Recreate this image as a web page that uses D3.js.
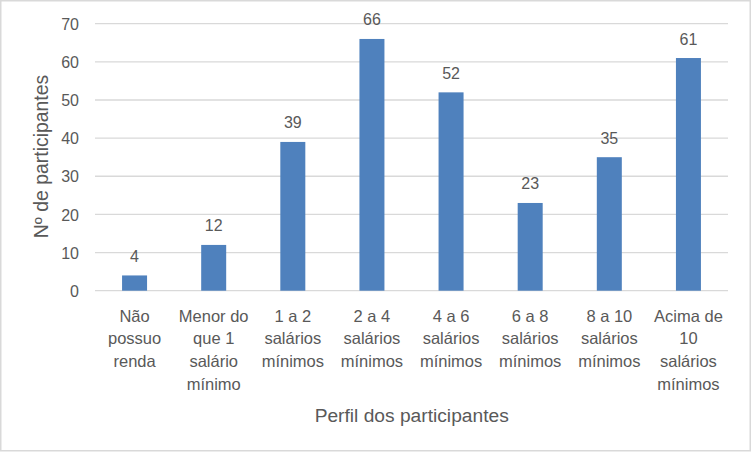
<!DOCTYPE html>
<html><head><meta charset="utf-8">
<script src="https://cdn.jsdelivr.net/npm/d3@7"></script>
<style>body{margin:0;background:#fff}svg{display:block}text{font-family:"Liberation Sans",Arial,sans-serif;fill:#595959}</style>
</head><body>
<svg id="c" width="752" height="453"></svg>
<script>
const categories = [
  ["Não","possuo","renda"],
  ["Menor do","que 1","salário","mínimo"],
  ["1 a 2","salários","mínimos"],
  ["2 a 4","salários","mínimos"],
  ["4 a 6","salários","mínimos"],
  ["6 a 8","salários","mínimos"],
  ["8 a 10","salários","mínimos"],
  ["Acima de","10","salários","mínimos"]
];
const values = [4, 12, 39, 66, 52, 23, 35, 61];
const yTicks = [0, 10, 20, 30, 40, 50, 60, 70];
const yTitle = "Nº de participantes";
const xTitle = "Perfil dos participantes";

(function(){
const svg = d3.select("#c");
svg.append("rect").attr("x",0.75).attr("y",0.75).attr("width",749.5).attr("height",450)
  .attr("fill","#fff").attr("stroke","#d9d9d9").attr("stroke-width",1.5);

const pL = 95, pR = 728, pT = 23.7, pB = 290.7;
const x = d3.scaleBand().domain(d3.range(categories.length)).range([pL, pR]).paddingInner(0.684).paddingOuter(0.342);
const y = d3.scaleLinear().domain([0, 70]).range([pB, pT]);

svg.append("g").selectAll("line").data(yTicks).join("line")
  .attr("x1", pL).attr("x2", pR)
  .attr("y1", d => y(d)).attr("y2", d => y(d))
  .attr("stroke", "#d9d9d9").attr("stroke-width", 1.3);

const yAxis = d3.axisLeft(y).tickValues(yTicks).tickSize(0).tickPadding(0);
const gy = svg.append("g").attr("transform", `translate(79,0)`).call(yAxis);
gy.select(".domain").remove();
gy.selectAll("text").attr("font-size", 16).attr("fill", "#595959")
  .attr("font-family", '"Liberation Sans",Arial,sans-serif').attr("dy", "0.35em");

svg.append("g").selectAll("rect").data(values).join("rect")
  .attr("x", (d, i) => x(i)).attr("width", x.bandwidth())
  .attr("y", d => y(d)).attr("height", d => y(0) - y(d))
  .attr("fill", "#4f81bd");

svg.append("g").selectAll("text").data(values).join("text")
  .attr("x", (d, i) => x(i) + x.bandwidth() / 2)
  .attr("y", d => y(d) - 13.5)
  .attr("text-anchor", "middle").attr("font-size", 16)
  .text(d => d);

const cg = svg.append("g").selectAll("text").data(categories).join("text")
  .attr("text-anchor", "middle").attr("font-size", 16.5)
  .attr("transform", (d, i) => `translate(${x(i) + x.bandwidth() / 2},321.5)`);
cg.selectAll("tspan").data(d => d).join("tspan")
  .attr("x", 0).attr("y", (d, j) => j * 22.7).text(d => d);

svg.append("text").attr("transform", "translate(47.5,156.5) rotate(-90)")
  .attr("text-anchor", "middle").attr("font-size", 19.4).text(yTitle);
svg.append("text").attr("x", 411.7).attr("y", 421.5)
  .attr("text-anchor", "middle").attr("font-size", 19.2).text(xTitle);
})();
</script>
</body></html>
